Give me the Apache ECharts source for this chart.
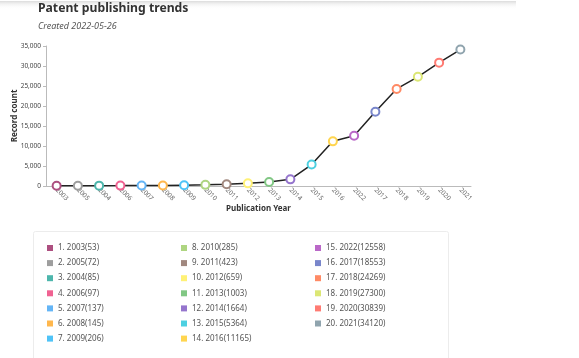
<!DOCTYPE html>
<html><head><meta charset="utf-8">
<script src="https://cdn.jsdelivr.net/npm/echarts@6/dist/echarts.min.js"></script>
<style>html,body{margin:0;padding:0;background:#fff}#c{width:579px;height:358px}</style>
</head><body><div id="c"></div>
<script>
const categories = ['2003','2005','2004','2006','2007','2008','2009','2010','2011','2012','2013','2014','2015','2016','2022','2017','2018','2019','2020','2021'];
const values = [53,72,85,97,137,145,206,285,423,659,1003,1664,5364,11165,12558,18553,24269,27300,30839,34120];
const colors = ['#ad4f80','#9e9e9e','#4db6ac','#f06292','#64b5f6','#ffb74d','#4fc3f7','#aed581','#a1887f','#fff176','#81c784','#9575cd','#4dd0e1','#ffd54f','#ba68c8','#7986cb','#ff8a65','#dce775','#ff7b73','#90a4ae'];
const yTicks = [0,5000,10000,15000,20000,25000,30000,35000];

const FONT = '"Noto Sans", "Open Sans", sans-serif';
const legendNames = categories.map((c,i)=>`${i+1}. ${c}(${values[i]})`);

const chart = echarts.init(document.getElementById('c'));
const legendCols = [[0,7],[7,14],[14,20]];
const legendLeft = [47,181,315];
const legends = legendCols.map((r,k)=>({
  orient:'vertical', left:legendLeft[k], top:243, padding:0,
  icon:'rect', itemWidth:6, itemHeight:6, itemGap:5.1,
  selectedMode:false,
  textStyle:{fontFamily:FONT,fontSize:8,color:'#555',lineHeight:10},
  data:legendNames.slice(r[0],r[1])
}));

const series = [{
  type:'line', name:'Record count',
  data: values.map((v,i)=>({value:v, itemStyle:{color:colors[i], borderColor:colors[i]}})),
  symbol:'emptyCircle', symbolSize:8,
  itemStyle:{borderWidth:1.5},
  lineStyle:{color:'#222', width:1.5},
  z:3
}].concat(legendNames.map((n,i)=>({type:'line', name:n, data:[], itemStyle:{color:colors[i]}})));

chart.setOption({
  animation:false,
  title:[{text:'Patent publishing trends', left:38, top:3, padding:0,
    textStyle:{fontFamily:FONT,fontSize:12.2,fontWeight:'bold',color:'#333'}},
    {text:'Created 2022-05-26', left:38, top:22, padding:0,
    textStyle:{fontFamily:FONT,fontSize:9,fontStyle:'italic',fontWeight:'normal',color:'#555'}}],
  legend: legends,
  grid:{left:46, top:46, width:425, height:140, containLabel:false, outerBoundsMode:'none'},
  xAxis:{type:'category', data:categories, boundaryGap:true,
    name:'Publication Year', nameLocation:'middle', nameGap:19, nameMoveOverlap:false,
    nameTextStyle:{fontFamily:FONT,fontSize:8,fontWeight:'bold',color:'#333'},
    axisLine:{lineStyle:{color:'#bbb'}}, axisTick:{show:false},
    axisLabel:{rotate:-45, interval:0, fontFamily:FONT, fontSize:6.5, color:'#666', margin:3}},
  yAxis:{type:'value', min:0, max:35000, interval:5000,
    name:'Record count', nameLocation:'middle', nameGap:27, nameRotate:90, nameMoveOverlap:false,
    nameTextStyle:{fontFamily:FONT,fontSize:8,fontWeight:'bold',color:'#333'},
    axisLine:{show:true,lineStyle:{color:'#bbb'}},
    axisTick:{show:true,length:3,lineStyle:{color:'#bbb'}},
    splitLine:{show:false},
    axisLabel:{fontFamily:FONT,fontSize:6.5,color:'#444',margin:5,
      formatter:v=>yTicks.includes(v)?v.toLocaleString('en-US'):''}},
  graphic:[
    {type:'rect', left:0, top:1, shape:{width:516,height:8},
      style:{fill:new echarts.graphic.LinearGradient(0,0,0,1,[{offset:0,color:'#dcdcdc'},{offset:1,color:'rgba(255,255,255,0)'}])}, silent:true},
    {type:'rect', left:31, top:229, shape:{width:415,height:140,r:2},
      style:{fill:'none',stroke:'#ececec',lineWidth:1}, silent:true}
  ],
  series: series
});
</script></body></html>
